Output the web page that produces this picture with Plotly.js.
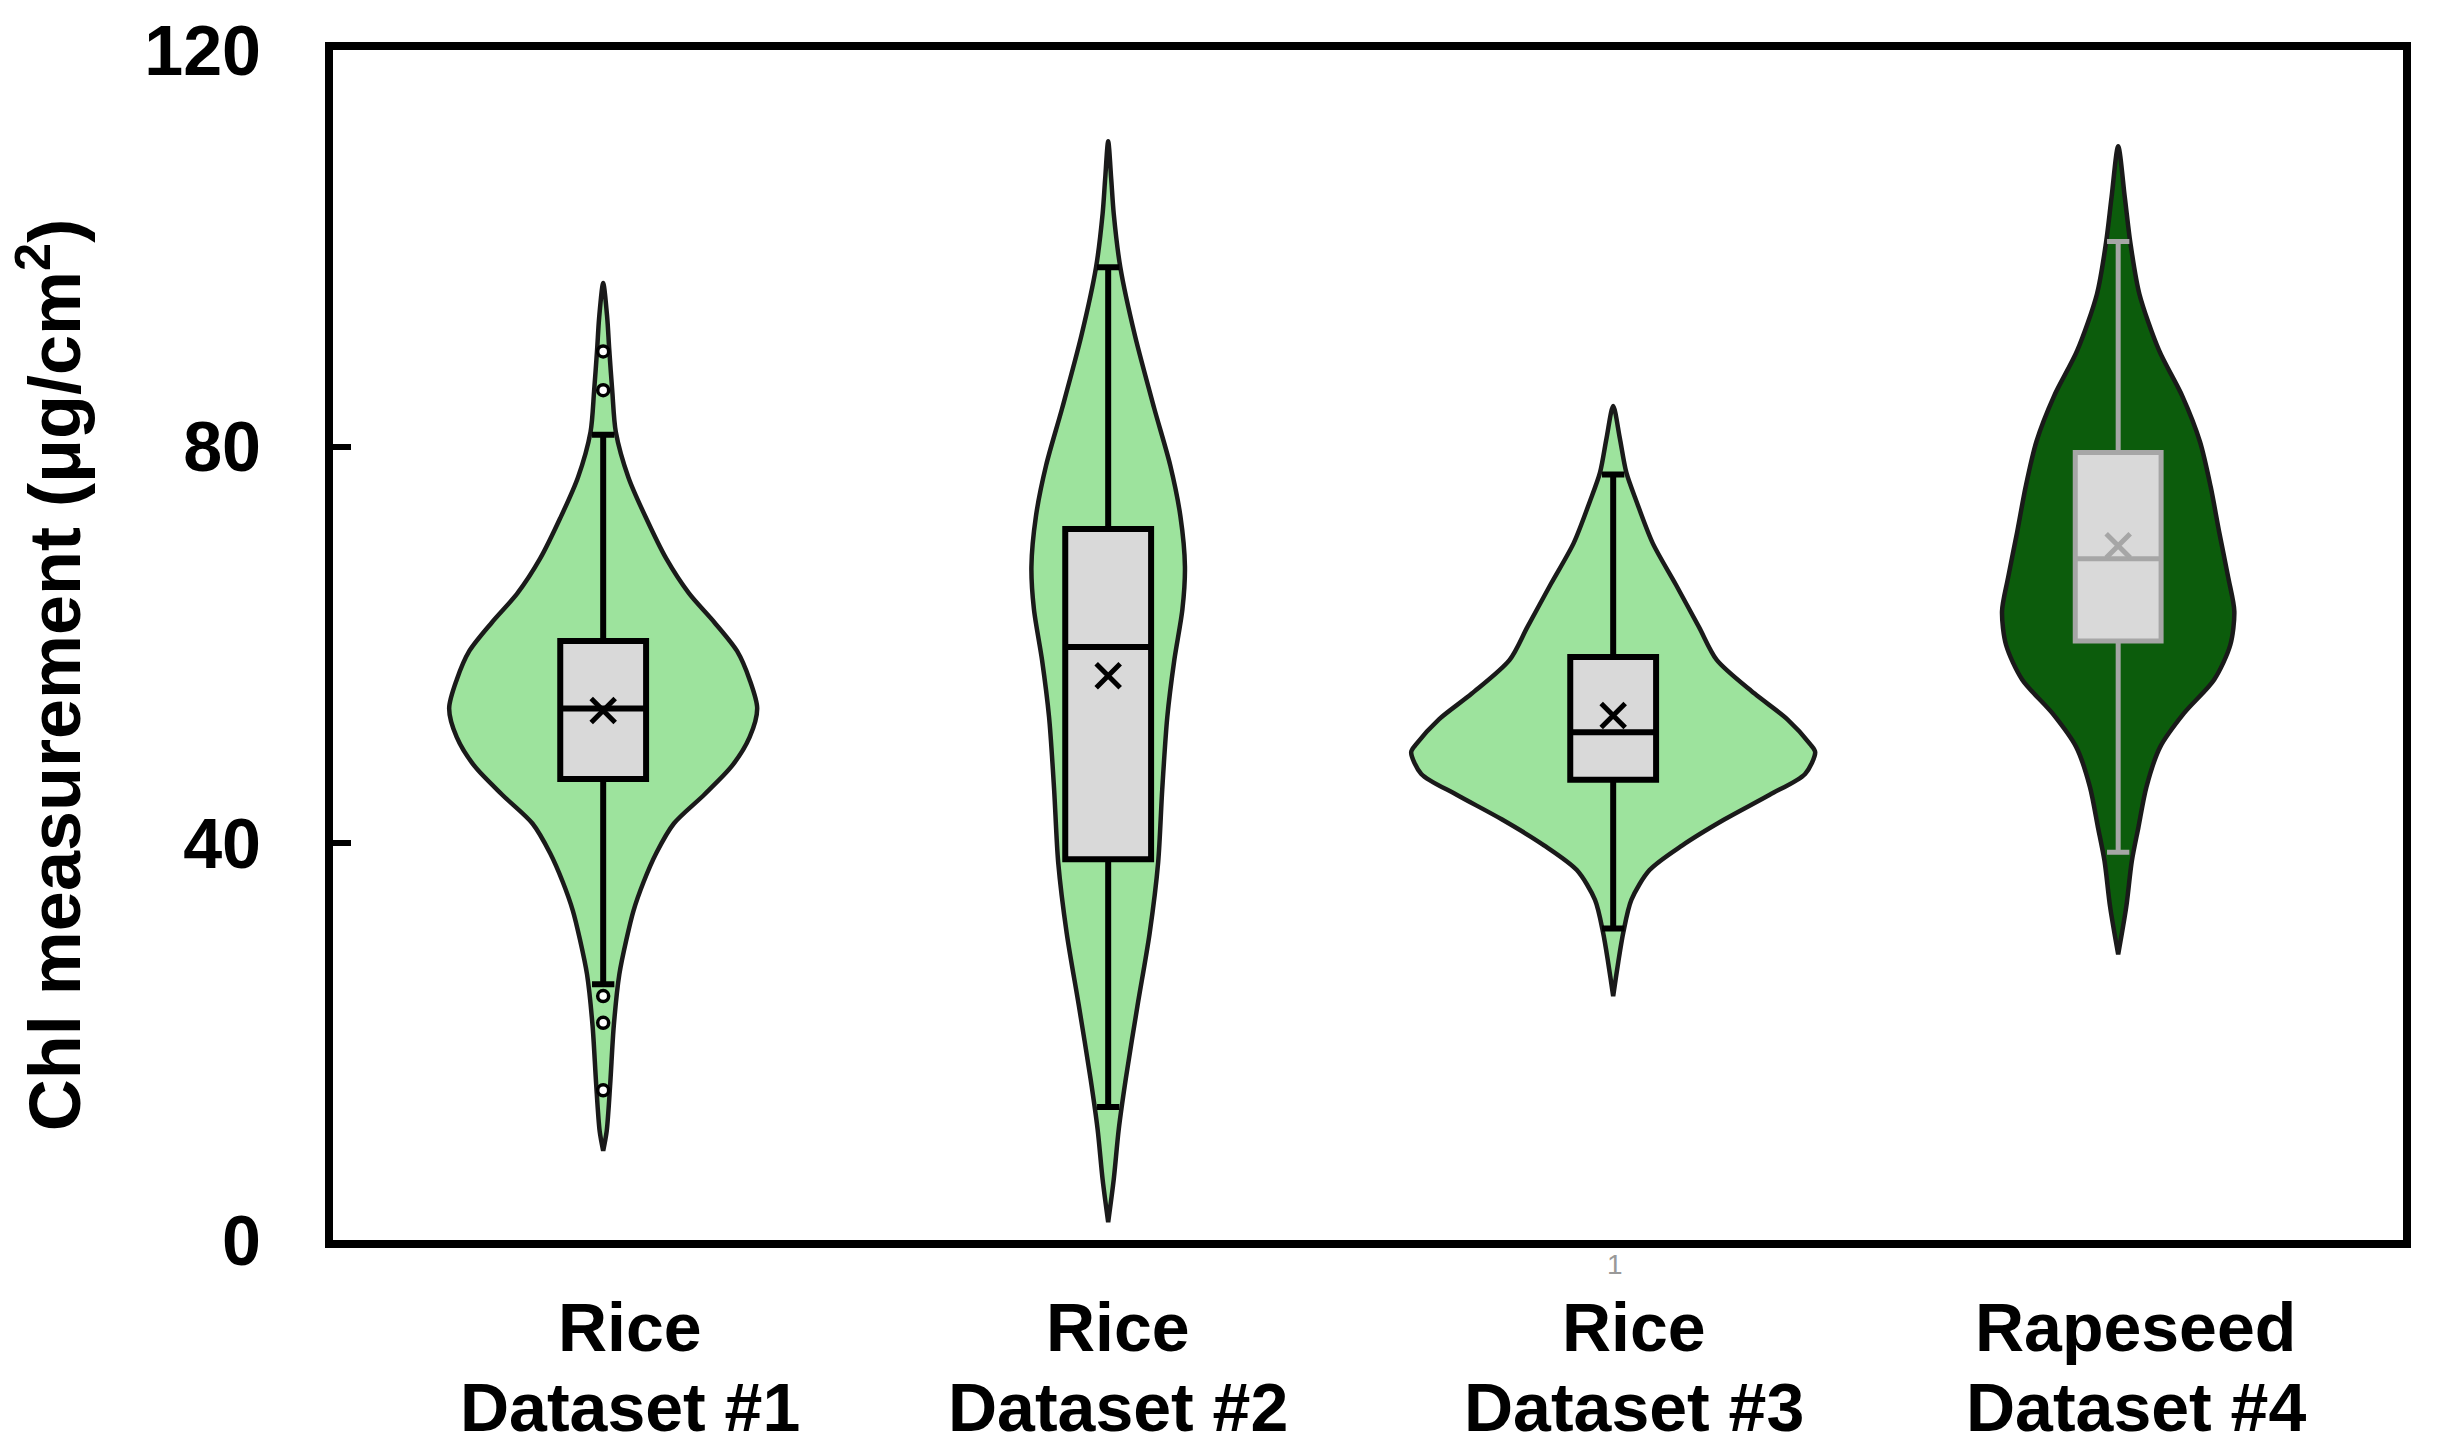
<!DOCTYPE html>
<html>
<head>
<meta charset="utf-8">
<script src="https://cdn.plot.ly/plotly-3.0.1.min.js"></script>
<style>html,body{margin:0;padding:0;background:#fff}</style>
</head>
<body>
<div id="chart" style="width:2441px;height:1454px"></div>
<script>
// category labels
const crops = ["Rice", "Rice", "Rice", "Rapeseed"];
const sets = ["Dataset #1", "Dataset #2", "Dataset #3", "Dataset #4"];

// violin outlines: level (µg/cm²) and half width (category units)
const lv1 = [96.5, 93, 89.8, 85.6, 81.5, 76.9, 72.8, 68.7, 65.2, 62.3, 59.4, 56.5, 53.6, 50.7, 47.8, 44.9, 42.0, 39.0, 36.1, 33.2, 30.3, 26.8, 21.6, 15.8, 11, 9];
const dn1 = [0, 0.008, 0.012, 0.018, 0.025, 0.05, 0.085, 0.125, 0.17, 0.22, 0.265, 0.29, 0.305, 0.29, 0.255, 0.2, 0.14, 0.105, 0.08, 0.06, 0.046, 0.032, 0.021, 0.014, 0.007, 0];
const lv2 = [110.8, 107, 103.5, 98.1, 91.2, 83.9, 78.1, 73.0, 67.9, 63.6, 58.5, 52.7, 45.4, 38.1, 30.9, 23.6, 16.3, 11.2, 6.1, 1.8];
const dn2 = [0, 0.006, 0.011, 0.024, 0.053, 0.091, 0.123, 0.143, 0.152, 0.147, 0.131, 0.117, 0.107, 0.099, 0.082, 0.058, 0.035, 0.021, 0.011, 0];
const lv3 = [84.1, 80.9, 77.4, 74.5, 70.3, 66.1, 61.8, 58.5, 55.1, 52.5, 50.0, 49.2, 47.0, 44.9, 42.4, 39.8, 37.3, 34.3, 31.0, 28.0, 24.6];
const dn3 = [0, 0.013, 0.026, 0.046, 0.078, 0.124, 0.17, 0.205, 0.28, 0.345, 0.39, 0.4, 0.38, 0.31, 0.22, 0.137, 0.072, 0.036, 0.02, 0.01, 0];
const lv4 = [110.3, 105.2, 100.6, 95.4, 89.7, 85.1, 80.5, 76.0, 71.4, 66.8, 63.4, 60.0, 56.5, 53.1, 49.7, 45.7, 41.6, 38.2, 33.6, 28.8];
const dn4 = [0, 0.013, 0.024, 0.042, 0.081, 0.127, 0.162, 0.183, 0.2, 0.218, 0.23, 0.222, 0.19, 0.13, 0.083, 0.056, 0.04, 0.027, 0.016, 0];

// box-and-whisker statistics
const q1 = [46.5, 38.4, 46.4, 60.4];
const med = [53.6, 59.8, 51.2, 68.7];
const q3 = [60.4, 71.7, 58.8, 79.4];
const lowW = [25.8, 13.4, 31.4, 39.1];
const highW = [81.2, 98.1, 77.2, 100.7];
const means = [53.4, 56.9, 52.9, 70.0];
// outliers of dataset #1
const out1 = [89.6, 85.7, 24.6, 21.9, 15.1];

const FONT = "Liberation Sans, Arial, Helvetica, sans-serif";
const fills = ["#9de39d", "#9de39d", "#9de39d", "#0c5c0c"];
const boxLine = ["#000000", "#000000", "#000000", "#a6a6a6"];
const labelX = [0.054, 1.019, 2.042, 3.035];

function outline(pos, lv, dn){
  const xs = [], ys = [];
  lv.forEach((y, i) => { xs.push(pos + dn[i]); ys.push(y); });
  for (let i = lv.length - 1; i >= 0; i--) { xs.push(pos - dn[i]); ys.push(lv[i]); }
  return {xs, ys};
}

const traces = [];
[[lv1, dn1], [lv2, dn2], [lv3, dn3], [lv4, dn4]].forEach(([lv, dn], i) => {
  const o = outline(i, lv, dn);
  traces.push({type: "scatter", x: o.xs, y: o.ys, mode: "lines", fill: "toself",
    fillcolor: fills[i], line: {color: "#1a1a1a", width: 4.5, shape: "spline", smoothing: 0.8},
    hoverinfo: "skip", showlegend: false});
});
// boxes on an overlaid axis so they sit above the violins
q1.forEach((v, i) => {
  traces.push({type: "box", xaxis: "x2", x: [i], q1: [q1[i]], median: [med[i]], q3: [q3[i]],
    lowerfence: [lowW[i]], upperfence: [highW[i]], width: 0.17, whiskerwidth: 0.26,
    boxpoints: false, fillcolor: "#d9d9d9", line: {color: boxLine[i], width: i === 3 ? 5 : 6},
    hoverinfo: "skip", showlegend: false});
});
traces.push({type: "scatter", xaxis: "x2", x: [0, 1, 2, 3], y: means, mode: "markers",
  marker: {symbol: "x-thin", size: 24, color: boxLine, line: {width: 5, color: boxLine}},
  hoverinfo: "skip", showlegend: false});
traces.push({type: "scatter", xaxis: "x2", x: out1.map(() => 0), y: out1, mode: "markers",
  marker: {symbol: "circle", size: 11, color: "#ffffff", line: {width: 3.5, color: "#000000"}},
  hoverinfo: "skip", showlegend: false});

const ann = [];
crops.forEach((c, i) => {
  ann.push({text: c, x: labelX[i], xref: "x", y: -0.073, yref: "paper", yanchor: "middle",
    showarrow: false, font: {family: FONT, size: 68, weight: "bold", color: "#000"}});
  ann.push({text: sets[i], x: labelX[i], xref: "x", y: -0.1403, yref: "paper", yanchor: "middle",
    showarrow: false, font: {family: FONT, size: 68, weight: "bold", color: "#000"}});
});
ann.push({text: "Chl measurement (μg/cm<sup>2</sup>)", textangle: -90, x: -0.137, xref: "paper",
  y: 0.475, yref: "paper", xanchor: "center", yanchor: "middle", showarrow: false,
  font: {family: FONT, size: 72, weight: "bold", color: "#000"}});
ann.push({text: "1", x: 2.004, xref: "x", y: -0.021, yref: "paper", yanchor: "middle", showarrow: false,
  font: {family: FONT, size: 28, color: "#999"}});

const xr = [-0.535, 3.564];
const layout = {
  width: 2441, height: 1454,
  margin: {l: 333, r: 38, t: 50, b: 214},
  paper_bgcolor: "#fff", plot_bgcolor: "#fff",
  xaxis: {range: xr, showline: true, mirror: true, linewidth: 8, linecolor: "#000",
    showgrid: false, zeroline: false, showticklabels: false, ticks: ""},
  xaxis2: {range: xr, overlaying: "x", visible: false},
  yaxis: {range: [0, 120], tickvals: [0, 40, 80, 120], ticks: "inside", ticklen: 18, tickwidth: 6,
    tickcolor: "#000", showline: true, mirror: true, linewidth: 8, linecolor: "#000",
    showgrid: false, zeroline: false, ticklabelstandoff: 50,
    tickfont: {family: FONT, size: 70, weight: "bold", color: "#000"}},
  annotations: ann,
  showlegend: false
};
Plotly.newPlot("chart", traces, layout, {displayModeBar: false, staticPlot: true});
</script>
</body>
</html>
